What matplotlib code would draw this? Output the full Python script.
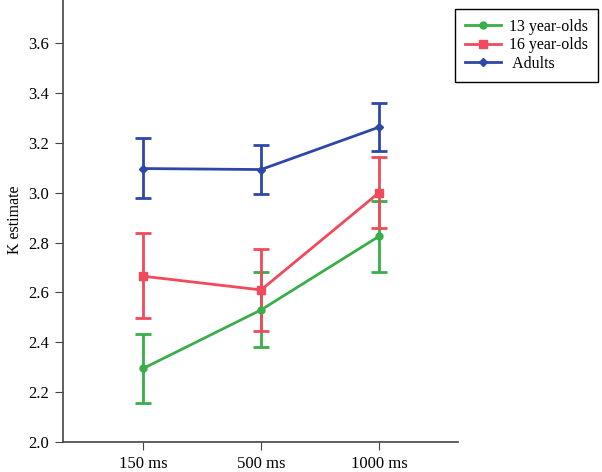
import matplotlib
matplotlib.use('Agg')
import matplotlib.pyplot as plt
from matplotlib.lines import Line2D

plt.rcParams['font.family'] = ['Liberation Serif', 'DejaVu Serif']

conditions = ['150 ms', '500 ms', '1000 ms']

teen13 = [2.295, 2.530, 2.825]
teen13_lo = [2.155, 2.380, 2.680]
teen13_hi = [2.435, 2.680, 2.968]

teen16 = [2.665, 2.610, 3.000]
teen16_lo = [2.497, 2.446, 2.858]
teen16_hi = [2.838, 2.776, 3.143]

adults = [3.097, 3.093, 3.263]
adults_lo = [2.980, 2.995, 3.168]
adults_hi = [3.218, 3.191, 3.358]

series = [
    ('13 year-olds', teen13, teen13_lo, teen13_hi, '#3aae4a', 'o', 5),
    ('16 year-olds', teen16, teen16_lo, teen16_hi, '#f04a5c', 's', 6),
    (' Adults', adults, adults_lo, adults_hi, '#2f48a8', 'D', 4.5),
]

fig = plt.figure(figsize=(6.02, 4.72), dpi=100)
ax = fig.add_axes([0.1047, 0.0636, 0.656, 0.94])

x = list(range(len(conditions)))
handles = []
for label, vals, lo, hi, color, marker, ms in series:
    yerr = [[v - l for v, l in zip(vals, lo)], [h - v for v, h in zip(vals, hi)]]
    ax.errorbar(x, vals, yerr=yerr, color=color, marker=marker, markersize=ms,
                linewidth=2, elinewidth=2, capsize=6, capthick=2)
    handles.append(Line2D([], [], color=color, marker=marker, markersize=ms,
                          linewidth=2, label=label))

ax.set_xlim(-0.68, 2.67)
ax.set_ylim(2.0, 3.78)
ax.set_xticks(x)
ax.set_xticklabels(conditions)
ax.set_yticks([2.0, 2.2, 2.4, 2.6, 2.8, 3.0, 3.2, 3.4, 3.6])
ax.set_yticklabels(['2.0', '2.2', '2.4', '2.6', '2.8', '3.0', '3.2', '3.4', '3.6'])
ax.set_ylabel('K estimate', fontsize=11.5, labelpad=4)
ax.tick_params(labelsize=12, length=6, color='#444444', pad=4)

for side in ['top', 'right']:
    ax.spines[side].set_visible(False)
for side in ['left', 'bottom']:
    ax.spines[side].set_color('#444444')
    ax.spines[side].set_linewidth(1.2)

leg = ax.legend(handles=handles, loc='upper right', bbox_to_anchor=(0.994, 0.981),
                bbox_transform=fig.transFigure, fontsize=11.5, fancybox=False,
                edgecolor='black', framealpha=1, borderpad=0.62,
                handlelength=2.3, handletextpad=0.5, labelspacing=0.16,
                borderaxespad=0)
leg.get_frame().set_linewidth(1.0)

fig.savefig('out.png', dpi=100)
